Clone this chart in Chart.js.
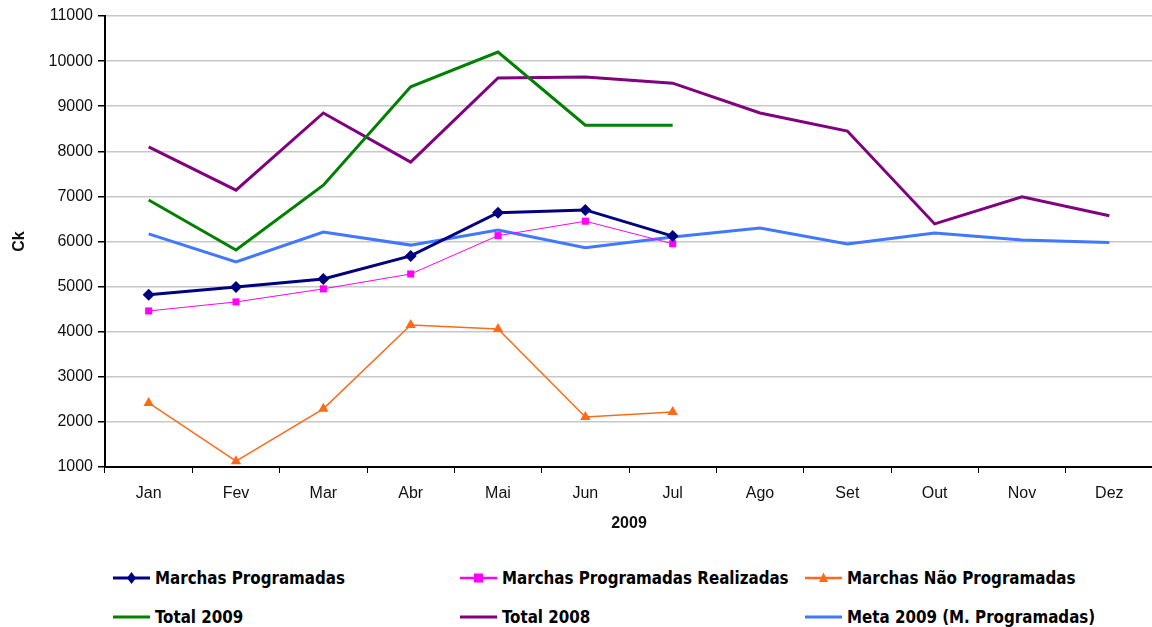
<!DOCTYPE html>
<html>
<head>
<meta charset="utf-8">
<script src="https://cdn.jsdelivr.net/npm/chart.js@4"></script>
<style>
  body { margin: 0; background: #fff; width: 1152px; height: 627px; overflow: hidden; position: relative; }
  #wrap { position: absolute; left: 0; top: 0; width: 1159px; height: 545px; }
  .leg { position: absolute; display: flex; align-items: center; font-family: "DejaVu Sans Condensed", "DejaVu Sans", sans-serif; font-weight: bold; font-size: 16.8px; color: #000; white-space: nowrap; }
  .leg svg { margin-right: 5px; }
</style>
</head>
<body>
<div id="wrap"><canvas id="grafico"></canvas></div>
<div id="leyenda"></div>
<script>
// Datos del gráfico
const meses = ['Jan', 'Fev', 'Mar', 'Abr', 'Mai', 'Jun', 'Jul', 'Ago', 'Set', 'Out', 'Nov', 'Dez'];
const marchasProgramadas = [4820, 4990, 5170, 5680, 6640, 6700, 6120];
const marchasRealizadas = [4460, 4660, 4950, 5280, 6130, 6450, 5950];
const marchasNaoProgramadas = [2420, 1130, 2290, 4150, 4060, 2110, 2220];
const total2009 = [6920, 5810, 7250, 9430, 10200, 8580, 8580];
const total2008 = [8100, 7140, 8850, 7760, 9625, 9650, 9510, 8850, 8450, 6390, 6990, 6570];
const meta2009 = [6170, 5545, 6210, 5920, 6255, 5860, 6100, 6300, 5945, 6190, 6035, 5980];

const series = [
    { label: 'Marchas Programadas', data: marchasProgramadas, color: '#000080', width: 3, point: 'rectRot', radius: 6 },
    { label: 'Marchas Programadas Realizadas', data: marchasRealizadas, color: '#ff00ff', width: 1, point: 'rect', radius: 5 },
    { label: 'Marchas Não Programadas', data: marchasNaoProgramadas, color: '#ff6a1a', width: 1.5, point: 'triangle', radius: 6 },
    { label: 'Total 2009', data: total2009, color: '#008000', width: 3, point: false, radius: 0 },
    { label: 'Total 2008', data: total2008, color: '#800080', width: 3, point: false, radius: 0 },
    { label: 'Meta 2009 (M. Programadas)', data: meta2009, color: '#4078ff', width: 3, point: false, radius: 0 }
];

const ctx = document.getElementById('grafico').getContext('2d');
new Chart(ctx, {
    type: 'line',
    data: {
        labels: meses,
        datasets: series.map(s => ({
            label: s.label,
            data: s.data,
            borderColor: s.color,
            backgroundColor: s.color,
            borderWidth: s.width,
            pointStyle: s.point,
            pointRadius: s.radius,
            pointBorderWidth: 0,
            tension: 0
        }))
    },
    options: {
        responsive: true,
        maintainAspectRatio: false,
        animation: false,
        layout: { padding: { top: 16, left: 0, right: 0, bottom: 0 } },
        plugins: { legend: { display: false }, tooltip: { enabled: false } },
        scales: {
            x: {
                offset: true,
                grid: { display: true, offset: true, drawOnChartArea: false, drawTicks: true, tickLength: 6, tickColor: '#000', color: '#000' },
                border: { color: '#000', width: 2 },
                ticks: { color: '#111', padding: 11, font: { family: 'Liberation Sans', size: 16 } },
                title: { display: true, text: '2009', color: '#111', padding: 12, font: { family: 'Liberation Sans', size: 16, weight: 'bold' } },
                afterFit: scale => { scale.height = 78; }
            },
            y: {
                min: 1000,
                max: 11000,
                ticks: { stepSize: 1000, color: '#111', padding: 5, font: { family: 'Liberation Sans', size: 16 }, callback: v => String(v) },
                grid: { color: '#c8c8c8', lineWidth: 1.5, tickColor: '#000', tickLength: 7 },
                border: { color: '#000', width: 2 },
                title: { display: true, text: 'Ck', color: '#111', padding: 10, font: { family: 'Liberation Sans', size: 16, weight: 'bold' } },
                afterFit: scale => { scale.width = 105; }
            }
        }
    }
});

// Leyenda en HTML con tres columnas
const posiciones = [[113, 578], [460, 578], [805, 578], [113, 617], [460, 617], [805, 617]];
const leyenda = document.getElementById('leyenda');
series.forEach((s, i) => {
    const item = document.createElement('div');
    item.className = 'leg';
    item.style.left = posiciones[i][0] + 'px';
    item.style.top = (posiciones[i][1] - 10) + 'px';
    let marca = '';
    if (s.point === 'rectRot') marca = `<polygon points="18.5,4 23,10 18.5,16 14,10" fill="${s.color}"/>`;
    if (s.point === 'rect') marca = `<rect x="14" y="5.5" width="9" height="9" fill="${s.color}"/>`;
    if (s.point === 'triangle') marca = `<polygon points="18.5,4.5 23,14 14,14" fill="${s.color}"/>`;
    item.innerHTML = `<svg width="37" height="20"><line x1="0" y1="10" x2="37" y2="10" stroke="${s.color}" stroke-width="${Math.max(s.width, 2.5)}"/>${marca}</svg><span>${s.label}</span>`;
    leyenda.appendChild(item);
});
</script>
</body>
</html>
